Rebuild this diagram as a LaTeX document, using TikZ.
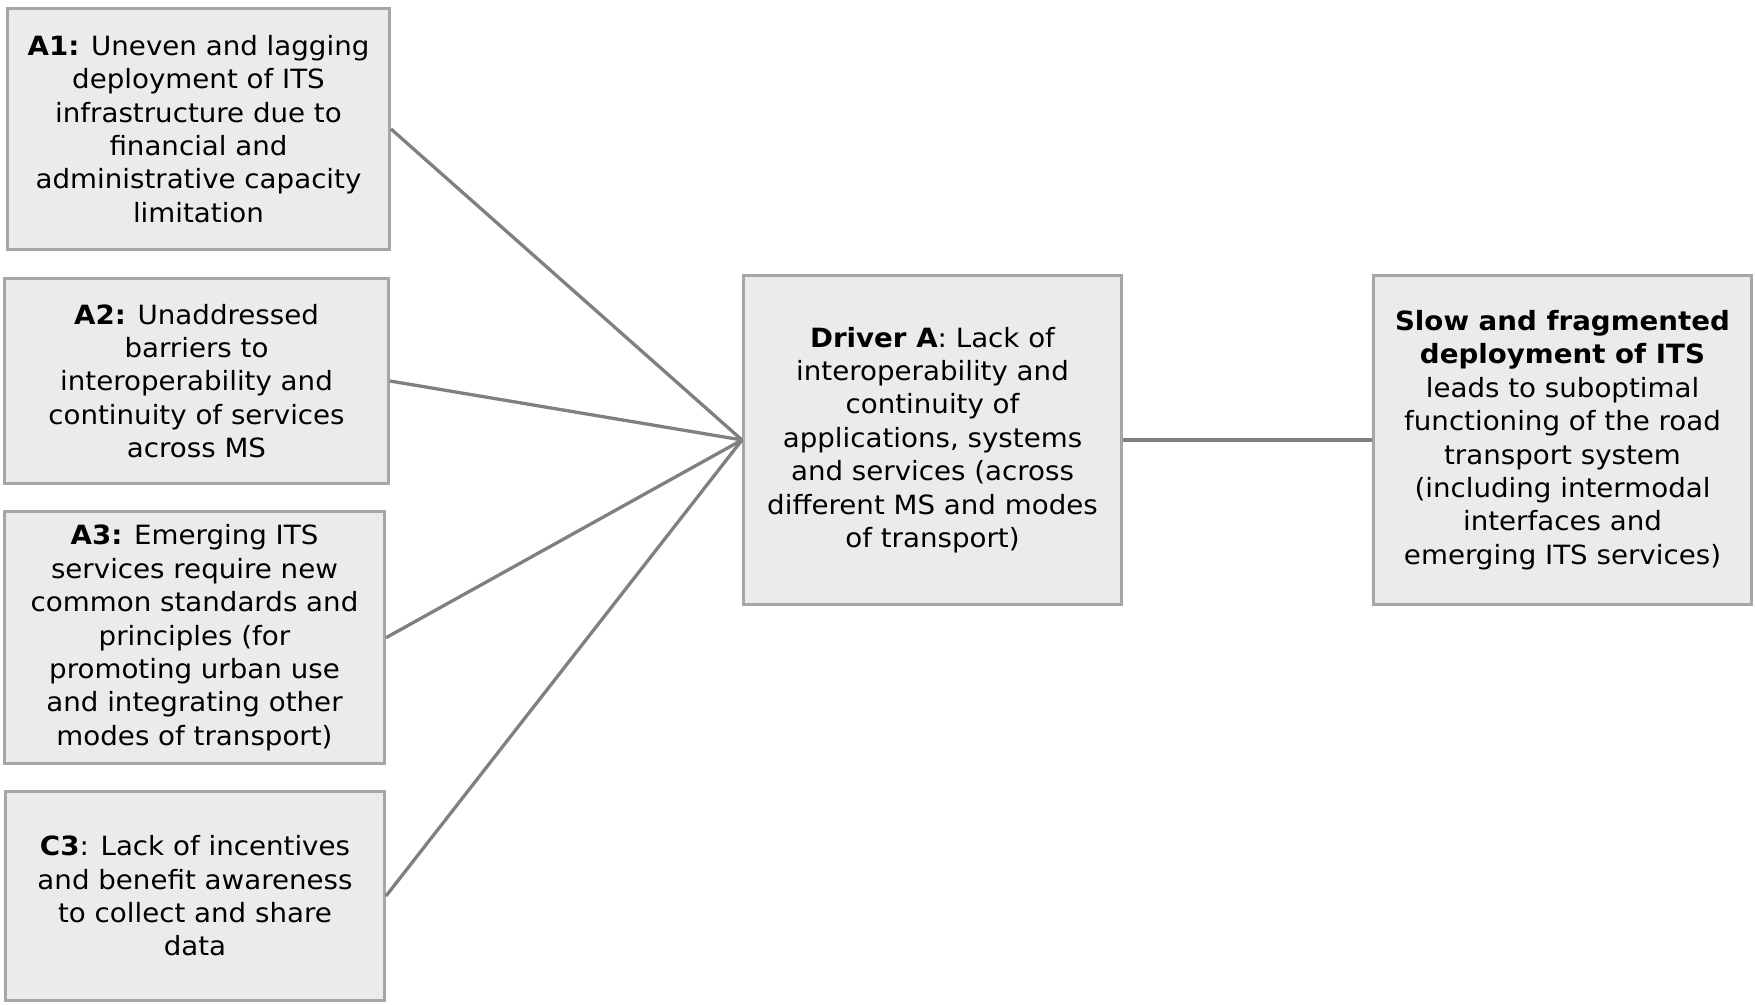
\documentclass[tikz,border=0pt]{standalone}
\usepackage{fontspec}
\setmainfont{DejaVu Sans}[FakeStretch=1.045]
\usetikzlibrary{positioning}

\definecolor{boxfill}{HTML}{EBEBEB}
\definecolor{boxline}{HTML}{A6A6A6}
\definecolor{linkgray}{HTML}{808080}

\begin{document}
\begin{tikzpicture}[x=0.5pt,y=-0.5pt,node distance=315pt,
                    every edge/.style={draw,linkgray,line width=1.65pt}]

  \tikzstyle{cause}=[rectangle,draw=boxline,fill=boxfill,line width=1.5pt,
                     align=center,inner sep=0pt,
                     font=\fontsize{13.25pt}{16.7pt}\selectfont]

  \useasboundingbox (0,0) rectangle (1755,1005);

  \node[cause,minimum width=191pt,minimum height=120.5pt] (A1) at (198.5,129)
    {\textbf{A1:} Uneven and lagging\\ deployment of ITS\\ infrastructure due to\\
     financial and\\ administrative capacity\\ limitation};
  \node[cause,minimum width=192pt,minimum height=102.5pt] (A2) at (196.5,381)
    {\textbf{A2:} Unaddressed\\ barriers to\\ interoperability and\\
     continuity of services\\ across MS};
  \node[cause,minimum width=190pt,minimum height=126.25pt] (A3) at (194.5,637.7)
    {\textbf{A3:} Emerging ITS\\ services require new\\ common standards and\\
     principles (for\\ promoting urban use\\ and integrating other\\ modes of transport)};
  \node[cause,minimum width=189.5pt,minimum height=104.5pt] (C3) at (195,896)
    {\textbf{C3}: Lack of incentives\\ and benefit awareness\\ to collect and share\\ data};
  \node[cause,minimum width=189pt,minimum height=164.25pt] (DA) at (932.5,440)
    {\textbf{Driver A}: Lack of\\ interoperability and\\ continuity of\\
     applications, systems\\ and services (across\\ different MS and modes\\ of transport)};
  \node[cause,minimum width=189pt,minimum height=164.25pt] (SF) [right of=DA]
    {\textbf{Slow and fragmented}\\ \textbf{deployment of ITS}\\ leads to suboptimal\\
     functioning of the road\\ transport system\\ (including intermodal\\
     interfaces and\\ emerging ITS services)};

  \path
  (A1.east) edge (DA.west)
  (A2.east) edge (DA.west)
  (A3.east) edge (DA.west)
  (C3.east) edge (DA.west)
  (DA.east) edge (SF.west);
\end{tikzpicture}
\end{document}
